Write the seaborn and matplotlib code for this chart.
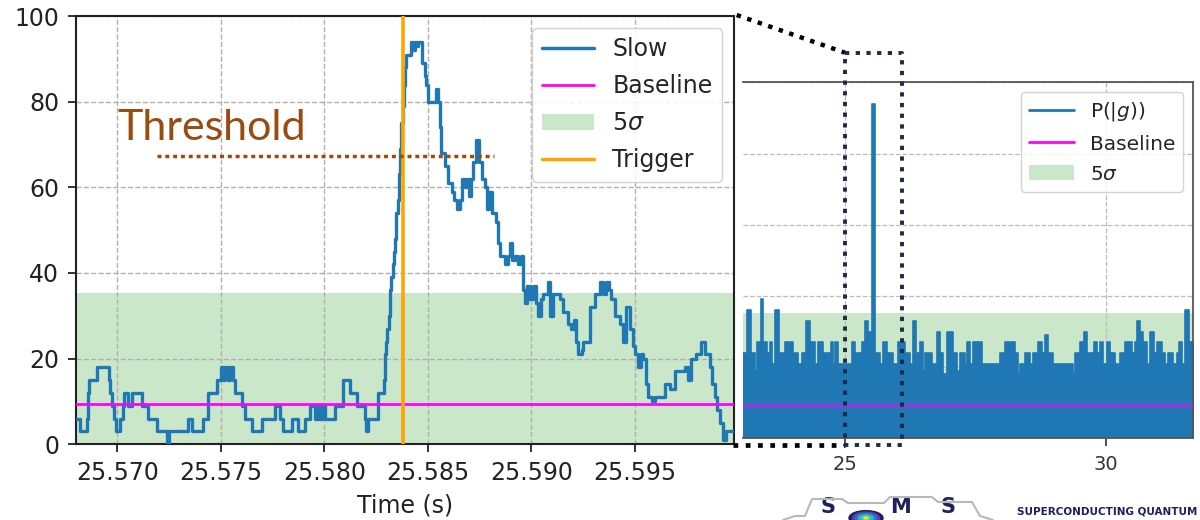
import numpy as np
import pandas as pd
import matplotlib
matplotlib.use("Agg")
import matplotlib.pyplot as plt
from matplotlib.lines import Line2D
from matplotlib.patches import Patch, Circle
import seaborn as sns

# ---------------- data ----------------
# Slow channel around the event: step samples, time in ms after T0 and level
T0 = 25.568
slow_ms = [0.00, 0.20, 0.52, 0.56, 0.62, 1.00, 1.61, 1.65, 1.75, 1.85, 1.95, 2.13, 2.29, 2.34,
           2.53, 2.69, 3.18, 3.50, 3.90, 4.38, 4.50, 5.43, 5.59, 6.15, 6.39, 6.80, 7.00, 7.12,
           7.20, 7.35, 7.42, 7.60, 7.68, 8.01, 8.17, 8.49, 8.97, 9.61, 9.85, 10.01, 10.42, 10.74,
           11.06, 11.30, 11.54, 11.70, 11.80, 11.90, 12.03, 12.51, 12.91, 13.24, 13.59, 13.96,
           14.01, 14.12, 14.60, 14.90, 14.95, 15.00, 15.05, 15.12, 15.18, 15.24, 15.30, 15.36,
           15.42, 15.48, 15.54, 15.60, 15.66, 15.72, 15.78, 15.84, 15.90, 15.96, 16.21, 16.30,
           16.36, 16.50, 16.55, 16.70, 16.86, 16.93, 17.02, 17.42, 17.49, 17.58, 17.66, 17.82,
           17.98, 18.15, 18.26, 18.39, 18.55, 18.64, 18.79, 18.89, 18.98, 19.08, 19.19, 19.35,
           19.48, 19.61, 19.75, 19.85, 19.95, 20.09, 20.32, 20.38, 20.48, 20.72, 20.86, 20.96,
           21.06, 21.20, 21.35, 21.53, 21.60, 21.69, 21.78, 21.93, 22.07, 22.22, 22.33, 22.46,
           22.57, 22.81, 22.89, 23.05, 23.37, 23.52, 23.76, 23.91, 24.05, 24.18, 24.25, 24.44,
           24.50, 24.82, 25.07, 25.31, 25.47, 25.63, 25.74, 25.87, 26.03, 26.27, 26.43, 26.60,
           26.76, 26.90, 27.00, 27.16, 27.29, 27.40, 27.56, 27.63, 27.82, 27.97, 28.45, 28.69,
           28.93, 29.41, 29.56, 29.73, 29.97, 30.22, 30.38, 30.62, 30.74, 30.86, 31.00, 31.10,
           31.26, 31.43, 31.80]
slow_val = [6, 3, 6, 12, 15, 18, 15, 12, 9, 6, 3, 6, 9, 12,
            9, 12, 9, 6, 3, 0, 3, 6, 3, 6, 12, 15, 18, 15,
            18, 15, 18, 15, 12, 9, 6, 3, 6, 9, 6, 3, 6, 3,
            6, 9, 6, 9, 6, 9, 6, 9, 15, 12, 9, 6,
            3, 6, 12, 15, 21, 24, 27, 30, 36, 39, 42, 45,
            48, 54, 57, 63, 69, 75, 79, 84, 88, 91, 94, 92,
            94, 93, 94, 89, 86, 84, 80, 83, 80, 74, 68, 65,
            61, 59, 57, 55, 57, 62, 60, 62, 58, 62, 66, 71,
            66, 62, 60, 55, 59, 54, 52, 47, 44, 42, 44, 47,
            43, 44, 42, 44, 36, 33, 37, 34, 37, 33, 30, 34,
            35, 38, 30, 35, 34, 31, 28, 27, 29, 24, 21, 22,
            24, 32, 35, 38, 35, 38, 36, 34, 30, 28, 24, 32,
            27, 23, 21, 18, 21, 20, 14, 11, 10, 11, 14, 13,
            17, 18, 15, 20, 21, 24, 21, 18, 14, 11, 8, 5,
            1, 3, 3]

BASELINE = 9.3
SIGMA5 = 35.3
THRESHOLD = 67.3
TRIGGER = 25.5838
threshold_t = [25.5719, 25.5882]
slow_ticks = [25.570, 25.575, 25.580, 25.585, 25.590, 25.595]

# Long record of P(|g)): upper envelope per step (time in s, level)
long_t = [23.04, 23.12, 23.21, 23.28, 23.32, 23.39, 23.43, 23.50, 23.56, 23.61, 23.67, 23.74,
          23.85, 24.01, 24.11, 24.17, 24.25, 24.33, 24.36, 24.43, 24.49, 24.58, 24.73, 24.78,
          24.81, 24.87, 25.13, 25.19, 25.22, 25.32, 25.38, 25.45, 25.52, 25.58, 25.67, 25.73,
          25.80, 25.93, 26.02, 26.15, 26.25, 26.31, 26.37, 26.44, 26.49, 26.53, 26.66, 26.76,
          26.82, 26.88, 26.95, 27.07, 27.14, 27.20, 27.30, 27.34, 27.39, 27.46, 27.62, 27.97,
          28.07, 28.26, 28.32, 28.35, 28.45, 28.54, 28.61, 28.70, 28.77, 28.83, 28.89, 28.99,
          29.37, 29.41, 29.50, 29.57, 29.63, 29.76, 29.82, 29.89, 29.95, 30.01, 30.08, 30.17,
          30.27, 30.36, 30.49, 30.56, 30.59, 30.65, 30.71, 30.78, 30.84, 30.91, 30.97, 31.07,
          31.13, 31.19, 31.29, 31.35, 31.40, 31.45, 31.51, 31.58, 31.61, 31.70]
long_val = [24, 36, 24, 19, 27, 39, 27, 24, 27, 21, 36, 24,
            27, 24, 21, 24, 33, 24, 27, 21, 27, 24, 27, 21,
            27, 21, 27, 21, 24, 27, 33, 30, 94, 24, 21, 27,
            24, 21, 27, 24, 21, 33, 24, 27, 19, 24, 21, 30,
            24, 18, 30, 24, 19, 24, 21, 27, 21, 27, 21, 24,
            27, 24, 18, 21, 24, 21, 24, 27, 24, 29, 24, 21,
            18, 24, 27, 30, 24, 27, 24, 27, 21, 27, 24, 21,
            24, 27, 24, 27, 33, 30, 27, 21, 30, 24, 27, 24,
            21, 24, 21, 24, 27, 21, 36, 21, 27, 27]
long_ticks = [25, 30]

# ---------------- style ----------------
sns.set_style("ticks")
plt.rcParams.update({
    "font.family": ["DejaVu Sans"],
    "axes.edgecolor": "#222222",
    "axes.linewidth": 1.5,
    "xtick.color": "#222222",
    "ytick.color": "#222222",
    "xtick.major.size": 6,
    "ytick.major.size": 6,
    "xtick.major.width": 1.3,
    "ytick.major.width": 1.3,
    "mathtext.fontset": "dejavusans",
})

BLUE = "#1f77b4"
GREEN = "#2ca02c"
BROWN = "#9a4b10"
NAVY = "#1c2a48"

fig = plt.figure(figsize=(12, 5.2), dpi=100)
W, H = 1200.0, 520.0


def fx(px):
    return px / W


def fy(py):
    return 1 - py / H


# ---------------- left: slow channel ----------------
axL = fig.add_axes([fx(76), fy(444.3), fx(734) - fx(76), fy(16) - fy(444.3)])
slow = pd.DataFrame({"t": T0 + np.array(slow_ms) / 1000.0, "v": slow_val})

axL.axhspan(0, SIGMA5, color=GREEN, alpha=0.25, lw=0, zorder=0)
sns.lineplot(data=slow, x="t", y="v", ax=axL, color=BLUE, lw=2.4,
             drawstyle="steps-post", estimator=None, sort=False, legend=False, zorder=3)
axL.axhline(BASELINE, color="magenta", lw=2, zorder=4)
axL.axvline(TRIGGER, color="orange", lw=2.6, zorder=5)
axL.plot(threshold_t, [THRESHOLD, THRESHOLD], color=BROWN, lw=2.5,
         ls=(0, (1.15, 1.1)), zorder=6)

axL.set_xlim(25.568, 25.5998)
axL.set_ylim(0, 100)
axL.set_xticks(slow_ticks)
axL.set_xticklabels([f"{t:.3f}" for t in slow_ticks])
axL.set_yticks([0, 20, 40, 60, 80, 100])
axL.tick_params(labelsize=17, pad=6)
axL.set_xlabel("Time (s)", fontsize=17, color="#222222", labelpad=6)
axL.set_ylabel("")
axL.grid(True, ls="--", color="#b0b0b0", lw=1.0)
axL.set_axisbelow(True)
for s in axL.spines.values():
    s.set_visible(True)

hL = [Line2D([], [], color=BLUE, lw=2.5),
      Line2D([], [], color="magenta", lw=2),
      Patch(facecolor=GREEN, alpha=0.25, lw=0),
      Line2D([], [], color="orange", lw=2.5)]
axL.legend(hL, ["Slow", "Baseline", r"5$\sigma$", "Trigger"], loc="upper right",
           fontsize=17, handlelength=2.2, labelspacing=0.55, framealpha=0.85,
           edgecolor="#cccccc", fancybox=True)

fig.text(fx(117), fy(140), "Threshold", family="Lato", fontsize=31, color=BROWN,
         va="baseline", ha="left")

# ---------------- right: long record ----------------
axR = fig.add_axes([fx(743), fy(438.3), fx(1193.3) - fx(743), fy(82.3) - fy(438.3)])
longrec = pd.DataFrame({"t": long_t, "v": long_val})

axR.axhspan(0, SIGMA5, color=GREEN, alpha=0.25, lw=0, zorder=0)
axR.fill_between(longrec["t"], 0, longrec["v"], step="post", color=BLUE, lw=0, zorder=2)
sns.lineplot(data=longrec, x="t", y="v", ax=axR, color=BLUE, lw=1.2,
             drawstyle="steps-post", estimator=None, sort=False, legend=False, zorder=3)
axR.axhline(BASELINE, color="magenta", lw=2.5, alpha=0.55, zorder=4)

axR.set_xlim(23.05, 31.67)
axR.set_ylim(0, 100)
axR.set_xticks(long_ticks)
axR.set_yticks([0, 20, 40, 60, 80, 100])
axR.tick_params(axis="x", labelsize=14, colors="#333333", length=6, width=1.2, pad=6)
axR.tick_params(axis="y", left=False, labelleft=False)
axR.set_xlabel("")
axR.set_ylabel("")
axR.grid(True, ls="--", color="#bbbbbb", lw=0.9)
axR.set_axisbelow(True)
axR.spines["left"].set_visible(False)
for k in ("top", "right", "bottom"):
    axR.spines[k].set_visible(True)
    axR.spines[k].set_color("#555555")
    axR.spines[k].set_linewidth(1.3)

hR = [Line2D([], [], color=BLUE, lw=2),
      Line2D([], [], color="magenta", lw=2),
      Patch(facecolor=GREEN, alpha=0.25, lw=0)]
axR.legend(hR, [r"P(|$g$))", "Baseline", r"5$\sigma$"], loc="upper right",
           fontsize=14.5, handlelength=2.2, labelspacing=0.55, framealpha=0.85,
           edgecolor="#cccccc", fancybox=True)

# ---------------- zoom connectors ----------------
fig.add_artist(Line2D([fx(736.7), fx(845)], [fy(15), fy(52.7)], color="black",
                      lw=3.2, ls=(0, (1, 1.5)), transform=fig.transFigure, zorder=10))
fig.add_artist(Line2D([fx(733), fx(845)], [fy(444.8), fy(444.8)], color="black",
                      lw=3.4, ls=(0, (1, 1.6)), transform=fig.transFigure, zorder=10))
rx = [fx(845), fx(902.3), fx(902.3), fx(845), fx(845)]
ry = [fy(52.7), fy(52.7), fy(444.5), fy(444.5), fy(52.7)]
fig.add_artist(Line2D(rx, ry, color=NAVY, lw=2.8, ls=(0, (1.1, 1.65)),
                      transform=fig.transFigure, zorder=10))

# ---------------- footer logo ----------------
LOGO_NAVY = "#1d1f5e"
for ch, px in (("S", 821), ("M", 890), ("S", 940)):
    fig.text(fx(px), fy(513), ch, fontsize=15, fontweight="bold", color=LOGO_NAVY,
             va="baseline", ha="left")
for r, c in ((17, LOGO_NAVY), (13.5, "#5b3fa0"), (10.5, "#2f6fd0"), (7.5, "#25b5d8"),
             (4.5, "#4cd07a"), (2.2, "#e8e040")):
    fig.add_artist(Circle((fx(866), fy(518)), r / W, color=c, transform=fig.transFigure,
                          zorder=11))
wave_x = [783, 795, 805, 812, 842, 848, 884, 890, 932, 938, 972, 980, 993]
wave_y = [520, 516, 516, 499, 499, 503, 503, 497, 497, 502, 502, 516, 520]
fig.add_artist(Line2D([fx(v) for v in wave_x], [fy(v) for v in wave_y], color="#b8b8b8",
                      lw=1.5, transform=fig.transFigure, zorder=9))
fig.text(fx(1017), fy(514), "SUPERCONDUCTING QUANTUM",
         fontsize=7.5, fontweight="bold", color=LOGO_NAVY, va="baseline", ha="left")

fig.savefig("out.png", dpi=100)
